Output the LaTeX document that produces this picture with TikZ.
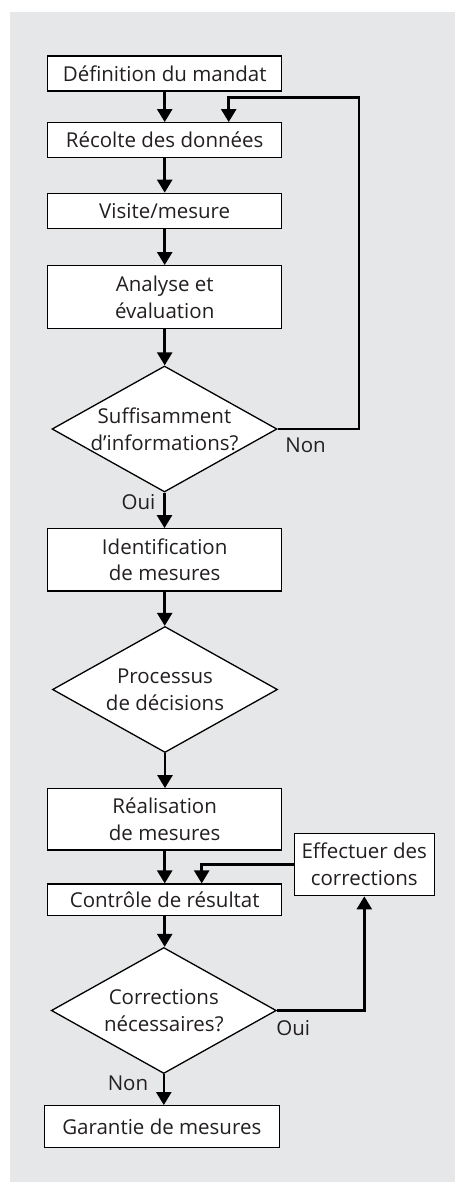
\documentclass[tikz,border=0pt]{standalone}
\usepackage{fontspec}
\setmainfont{Open Sans}
\usetikzlibrary{shapes.geometric,arrows.meta}
\definecolor{bggray}{HTML}{E6E7E8}
\definecolor{txt}{HTML}{231F20}
\begin{document}
\begin{tikzpicture}[x=1pt,y=-1pt,
  every node/.style={font=\fontsize{20.5}{26.7}\selectfont, text=txt},
  box/.style={draw=black, line width=1.3pt, fill=white, rectangle, minimum width=234pt, inner sep=0pt, align=center},
  dec/.style={draw=black, line width=1.3pt, fill=white, diamond, aspect=1.786, inner xsep=0pt, inner ysep=-12pt, align=center, minimum width=225pt, minimum height=126pt},
  arr/.style={line width=2.5pt, -{Triangle[width=15pt,length=13pt]}},
  lbl/.style={inner sep=0pt}]
\useasboundingbox (0,0) rectangle (455,1182);
\fill[bggray] (10,12) rectangle (455,1182);

\node[box, minimum height=35pt] (b1) at (164.7,73.5) {Définition du mandat};
\node[box, minimum height=35pt] (b2) at (164.7,140.2) {Récolte des données};
\node[box, minimum height=35.4pt] (b3) at (164.7,211) {Visite/mesure};
\node[box, minimum height=62.6pt] (b4) at (164.7,297) {Analyse et\\évaluation};
\node[dec] (d1) at (164.5,429) {Suffisamment\\d’informations?};
\node[box, minimum height=62.3pt] (b5) at (164.7,559.9) {Identification\\de mesures};
\node[dec] (d2) at (165,689.5) {Processus\\de décisions};
\node[box, minimum height=61.3pt] (b6) at (164.7,819.4) {Réalisation\\de mesures};
\node[box, minimum width=140pt, minimum height=62.4pt] (eff) at (364.3,864.5) {Effectuer des\\corrections};
\node[box, minimum height=31.3pt] (b7) at (164.7,899.7) {Contrôle de résultat};
\node[dec] (d3) at (163.8,1010.5) {Corrections\\nécessaires?};
\node[box, minimum width=235pt, minimum height=41.6pt] (b8) at (161.8,1126.5) {Garantie de mesures};

\coordinate (c1) at (359,97.3);
\coordinate (c2) at (228.7,97.3);
\coordinate (c4) at (201.7,865);

\draw[arr] (b1.south) -- (b1.south |- b2.north);
\draw[arr] (b2.south) -- (b2.south |- b3.north);
\draw[arr] (b3.south) -- (b3.south |- b4.north);
\draw[arr] (b4.south) -- (b4.south |- d1.north);
\draw[arr] (d1.south) -- (d1.south |- b5.north);
\draw[arr] (b5.south) -- (b5.south |- d2.north);
\draw[arr] (d2.south) -- (d2.south |- b6.north);
\draw[arr] (b6.south) -- (b6.south |- b7.north);
\draw[arr] (b7.south) -- (b7.south |- d3.north);
\draw[arr] (d3.south) -- (d3.south |- b8.north);
\draw[arr] (d1.east) -| (c1) -| (b2.north -| c2);
\draw[arr] (eff.west) -| (b7.north -| c4);
\draw[arr] (d3.east) -| (eff.south);

\node[lbl] (non1) at (305.5,445.7) {Non};
\node[lbl] (oui1) at (138.5,501.7) {Oui};
\node[lbl] (oui2) at (293.3,1027.7) {Oui};
\node[lbl] (non2) at (128,1083.3) {Non};
\end{tikzpicture}
\end{document}
